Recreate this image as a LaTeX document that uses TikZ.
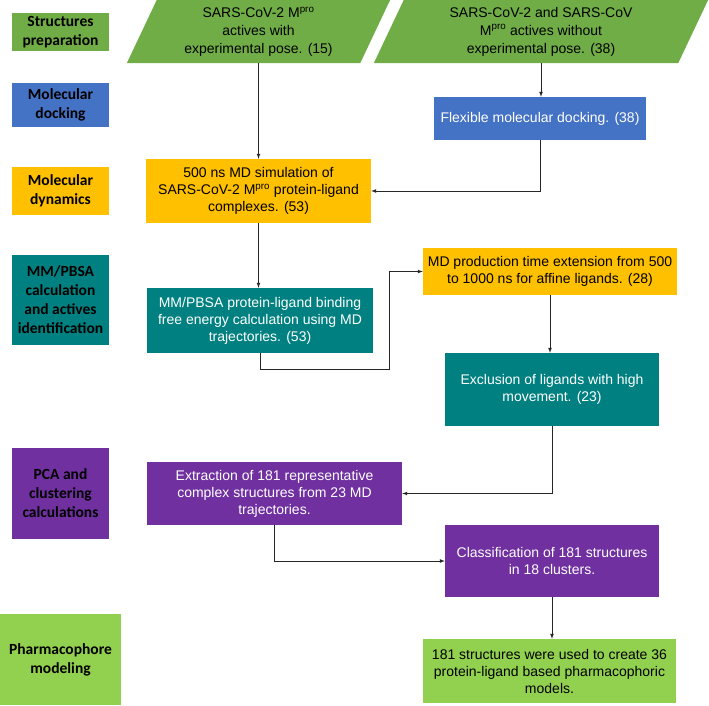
\documentclass[tikz,border=0pt]{standalone}
\usepackage{fontspec}
\setmainfont{Liberation Sans}
\newfontfamily\lblfont{Carlito}
\definecolor{prepgreen}{RGB}{112,173,71}
\definecolor{dockblue}{RGB}{68,114,196}
\definecolor{dynyellow}{RGB}{255,192,0}
\definecolor{mmteal}{RGB}{0,128,128}
\definecolor{pcapurple}{RGB}{112,48,160}
\definecolor{pharmgreen}{RGB}{146,208,80}
\pgfdeclarelayer{bg}
\pgfsetlayers{bg,main}

\tikzset{
  stage/.style={rectangle, inner sep=0pt, minimum width=97pt, align=center,
    font=\lblfont\bfseries\fontsize{15.5}{19}\selectfont},
  task/.style={rectangle, inner sep=0pt, align=center,
    font=\fontsize{14}{17}\selectfont},
  arr/.style={-latex, line width=0.7pt, black!85},
}

\begin{document}
\begin{tikzpicture}[x=1pt, y=-1pt]
  \useasboundingbox (0,0) rectangle (709,705);
  \def\sl{15} % half slant of the input boxes

  % stages on the left
  \node[stage, fill=prepgreen, minimum height=38pt] (lprep) at (60.5,32) {Structures\\preparation};
  \node[stage, fill=dockblue, minimum height=44pt] (ldock) at (60.5,105) {Molecular\\docking};
  \node[stage, fill=dynyellow, minimum height=48pt] (ldyn) at (60.5,191) {Molecular\\dynamics};
  \node[stage, fill=mmteal, minimum height=90pt] (lmm) at (60.5,300) {MM/PBSA\\calculation\\and actives\\identification};
  \node[stage, fill=pcapurple, minimum height=91pt] (lpca) at (60.5,493.5) {PCA and\\clustering\\calculations};
  \node[stage, fill=pharmgreen, minimum width=121pt, minimum height=91pt] (lpharm) at (60.5,659.5) {Pharmacophore\\modeling};

  % input sets
  \node[task, font=\fontsize{14}{18}\selectfont, minimum width=233pt, minimum height=63pt] (prepA) at (258.5,31.5)
       {SARS-CoV-2 M\textsuperscript{pro}\\actives with\\experimental pose. (15)};
  \node[task, font=\fontsize{14}{18}\selectfont, minimum width=304pt, minimum height=63pt] (prepB) at (541,31.5)
       {SARS-CoV-2 and SARS-CoV\\M\textsuperscript{pro} actives without\\experimental pose. (38)};
  \begin{pgfonlayer}{bg}
    \foreach \p in {prepA,prepB}
      \fill[prepgreen] ([xshift=-\sl pt]\p.south west) -- ([xshift=\sl pt]\p.north west)
           -- ([xshift=\sl pt]\p.north east) -- ([xshift=-\sl pt]\p.south east) -- cycle;
  \end{pgfonlayer}

  % steps
  \node[task, fill=dockblue, text=white, minimum width=212pt, minimum height=43pt] (dock) at (540,118.5)
       {Flexible molecular docking. (38)};
  \node[task, fill=dynyellow, minimum width=225pt, minimum height=64pt] (md) at (258.5,191)
       {500 ns MD simulation of\\SARS-CoV-2 M\textsuperscript{pro} protein-ligand\\complexes. (53)};
  \node[task, fill=dynyellow, minimum width=254pt, minimum height=47pt] (ext) at (550,271.5)
       {MD production time extension from 500\\to 1000 ns for affine ligands. (28)};
  \node[task, fill=mmteal, text=white, minimum width=226pt, minimum height=65pt] (mm) at (260,320.5)
       {MM/PBSA protein-ligand binding\\free energy calculation using MD\\trajectories. (53)};
  \node[task, fill=mmteal, text=white, minimum width=214pt, minimum height=73pt] (excl) at (552,389.5)
       {Exclusion of ligands with high\\movement. (23)};
  \node[task, fill=pcapurple, text=white, minimum width=255pt, minimum height=63pt] (extr) at (274.5,493.5)
       {Extraction of 181 representative\\complex structures from 23 MD\\trajectories.};
  \node[task, fill=pcapurple, text=white, minimum width=214pt, minimum height=72pt] (cls) at (552,561)
       {Classification of 181 structures\\in 18 clusters.};
  \node[task, fill=pharmgreen, minimum width=253pt, minimum height=64pt] (pharm) at (549.5,671)
       {181 structures were used to create 36\\protein-ligand based pharmacophoric\\models.};

  % flow
  \draw[arr] (prepA.south) -- (prepA.south |- md.north);
  \draw[arr] (prepB.south) -- (prepB.south |- dock.north);
  \draw[arr] (dock.south) |- (md.east);
  \draw[arr] (md.south) -- (md.south |- mm.north);
  \draw[arr] (mm.south) -- ++(0,16) -| ([xshift=-33pt]ext.west) -- (ext.west);
  \draw[arr] (ext.south) -- (ext.south |- excl.north);
  \draw[arr] (excl.south) |- (extr.east);
  \draw[arr] (extr.south) |- (cls.west);
  \draw[arr] (cls.south) -- (cls.south |- pharm.north);
\end{tikzpicture}
\end{document}
